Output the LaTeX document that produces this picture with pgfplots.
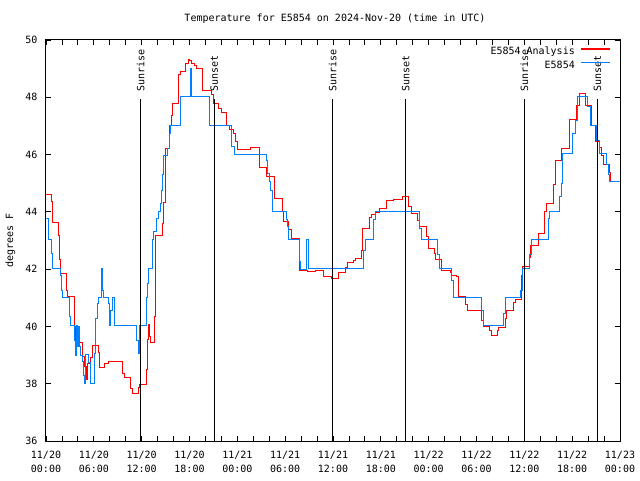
\documentclass[border=0pt]{standalone}
\usepackage{pgfplots}
\pgfplotsset{compat=1.18}
\usepackage{fontspec}
\setmainfont{DejaVu Sans Mono}
\definecolor{gred}{RGB}{255,0,0}
\definecolor{gblue}{RGB}{0,128,255}
\begin{document}
\begin{tikzpicture}[font=\fontsize{10bp}{12bp}\selectfont]
\begin{axis}[name=ax, scale only axis, width=574bp, height=401bp,
  xmin=0, xmax=72, ymin=36, ymax=50,
  xtick={0,6,...,72}, minor x tick num=2,
  xticklabels={{11/20\\00:00},{11/20\\06:00},{11/20\\12:00},{11/20\\18:00},{11/21\\00:00},{11/21\\06:00},{11/21\\12:00},{11/21\\18:00},{11/22\\00:00},{11/22\\06:00},{11/22\\12:00},{11/22\\18:00},{11/23\\00:00}},
  xticklabel style={align=center, font=\fontsize{10bp}{13.5bp}\selectfont, yshift=-7bp},
  ytick={36,38,...,50},
  yticklabel style={xshift=-5bp},
  /pgf/number format/assume math mode=true,
  major tick length=5bp, minor tick length=5bp,
  tick style={black, line width=0.8bp},
  axis line style={line width=1bp},
  title={Temperature for E5854 on 2024-Nov-20 (time in UTC)},
  every axis title/.style={at={(axis description cs:0.5035,1.052)}, anchor=center},
  ylabel={degrees F},
  ylabel style={at={(axis description cs:-0.062,0.5)}, anchor=center},
  clip=true,
]
\addplot[gred, line width=1bp, const plot, no marks] table {
0 44.59
0.63 44.35
0.79 43.63
1.54 43.19
1.67 42.32
1.84 41.85
2.60 41.27
2.72 41.06
3.55 39.99
3.64 39.44
4.55 38.94
4.80 38.59
5.02 38.16
5.23 38.72
5.52 38.90
5.81 39.35
6.61 39.10
6.77 38.57
7.31 38.69
7.81 38.79
9.57 38.36
9.82 38.22
10.54 37.84
10.83 37.66
11.58 37.87
11.79 37.99
12.63 38.51
12.76 39.56
12.83 40.08
12.96 39.66
13.05 39.44
13.64 40.34
13.76 43.19
14.64 43.60
14.80 44.32
14.93 45.11
15.05 46.22
15.47 47.03
15.77 47.35
15.89 47.77
16.60 48.81
16.81 48.89
17.44 49.19
17.85 49.33
18.06 49.30
18.28 49.19
18.57 49.10
18.82 49.01
19.66 48.23
20.70 48.08
20.99 47.80
21.61 47.62
22.04 47.46
22.67 47.03
22.96 46.86
23.50 46.72
23.71 46.45
24.05 46.19
25.59 46.25
26.72 45.75
26.84 45.55
27.69 45.25
28.64 44.47
29.64 44.00
29.85 43.66
30.48 43.37
30.82 43.08
31.86 41.97
32.78 41.91
33.83 41.97
34.78 41.74
35.84 41.66
36.67 41.89
37.63 42.06
37.80 42.22
38.55 42.29
38.76 42.38
39.60 42.64
39.73 43.42
40.64 43.80
40.86 43.92
41.27 43.99
41.81 44.12
42.74 44.39
43.57 44.44
44.74 44.53
45.45 44.18
45.87 43.96
46.58 43.69
46.79 43.50
47.76 43.13
48.04 42.73
48.67 42.53
48.88 42.34
49.55 41.97
50.80 41.90
50.89 41.79
51.52 41.74
51.72 41.04
52.56 40.75
52.85 40.54
54.65 40.22
54.85 40.01
55.61 39.87
55.82 39.70
56.61 39.87
56.82 39.97
57.58 40.29
57.79 40.57
58.62 40.82
58.92 40.95
59.67 41.79
59.75 42.08
60.63 42.40
60.80 42.84
61.75 43.25
62.59 44.00
62.81 44.30
63.64 44.94
63.85 45.81
64.69 46.22
65.64 47.24
66.48 47.73
66.86 48.14
67.61 47.70
68.45 47.03
68.87 46.45
69.49 46.25
69.71 45.98
69.91 45.64
70.62 45.39
70.75 45.05
72.00 45.05
};
\addplot[gblue, line width=1bp, const plot, no marks] table {
0 43.77
0.29 43.04
0.63 42.78
0.75 42.56
0.79 42.03
1.84 41.79
1.97 41.27
2.09 41.02
2.89 40.78
3.01 40.34
3.10 40.02
3.55 39.52
3.73 39.00
3.85 40.02
3.98 39.29
4.05 40.00
4.14 39.29
4.39 39.00
4.60 38.77
4.68 38.30
4.80 38.01
4.98 39.03
5.31 38.74
5.52 38.01
6.06 39.06
6.27 40.28
6.44 40.80
6.61 41.02
6.90 41.74
7.02 42.03
7.11 41.27
7.24 41.02
7.87 40.80
7.94 40.02
8.12 40.57
8.32 41.02
8.53 40.02
11.38 39.52
11.58 39.04
11.70 40.02
12.63 41.02
12.71 41.50
12.83 42.03
13.33 43.02
13.51 43.31
13.89 43.77
14.09 44.00
14.30 44.30
14.46 44.76
14.59 45.29
14.71 45.98
15.22 46.22
15.47 46.75
15.64 47.01
16.90 48.02
18.15 49.01
18.31 48.02
20.45 47.01
23.29 46.28
23.62 46.01
27.69 45.79
27.81 45.34
28.01 45.05
28.22 44.76
28.39 44.03
30.19 43.72
30.32 43.48
30.44 43.04
31.74 42.26
31.95 41.99
32.70 43.02
32.90 42.03
39.80 42.66
40.02 43.02
41.06 43.72
41.27 44.03
46.79 43.42
47.13 43.02
49.08 42.50
49.34 42.03
50.89 41.62
51.09 41.02
54.65 40.54
54.85 40.05
57.36 40.46
57.61 41.02
59.46 41.27
59.80 42.03
60.63 42.50
60.84 43.04
63.01 43.77
63.13 44.00
64.39 44.52
64.60 45.00
64.82 46.04
66.07 46.75
66.36 47.20
66.65 48.02
67.90 47.67
68.24 47.03
69.08 46.50
69.37 46.04
70.33 45.64
70.53 45.29
70.66 45.05
72.00 45.05
};
\draw[black, line width=1.2bp] (axis cs:11.88,47.94) -- (axis cs:11.88,36);
\draw[black, line width=1.2bp] (axis cs:21.11,47.94) -- (axis cs:21.11,36);
\draw[black, line width=1.2bp] (axis cs:35.96,47.94) -- (axis cs:35.96,36);
\draw[black, line width=1.2bp] (axis cs:45.12,47.94) -- (axis cs:45.12,36);
\draw[black, line width=1.2bp] (axis cs:60.00,47.94) -- (axis cs:60.00,36);
\draw[black, line width=1.2bp] (axis cs:69.16,47.94) -- (axis cs:69.16,36);
\node[rotate=90, anchor=west, inner sep=0pt] at (axis cs:11.88,48.18) {Sunrise};
\node[rotate=90, anchor=west, inner sep=0pt] at (axis cs:21.11,48.18) {Sunset};
\node[rotate=90, anchor=west, inner sep=0pt] at (axis cs:35.96,48.18) {Sunrise};
\node[rotate=90, anchor=west, inner sep=0pt] at (axis cs:45.12,48.18) {Sunset};
\node[rotate=90, anchor=west, inner sep=0pt] at (axis cs:60.00,48.18) {Sunrise};
\node[rotate=90, anchor=west, inner sep=0pt] at (axis cs:69.16,48.18) {Sunset};
% legend
\node[anchor=east, inner sep=0pt] at (rel axis cs:0.9216,0.9713) {E5854 Analysis};
\node[anchor=east, inner sep=0pt] at (rel axis cs:0.9216,0.9389) {E5854};
\draw[gred, line width=1.1bp] (rel axis cs:0.932,0.9776) -- (rel axis cs:0.9826,0.9776);
\draw[gblue, line width=1.1bp] (rel axis cs:0.932,0.9439) -- (rel axis cs:0.9826,0.9439);
\end{axis}
\path[use as bounding box] ([xshift=-46bp,yshift=-39bp]ax.south west) rectangle ([xshift=20bp,yshift=40bp]ax.north east);
\end{tikzpicture}
\end{document}
